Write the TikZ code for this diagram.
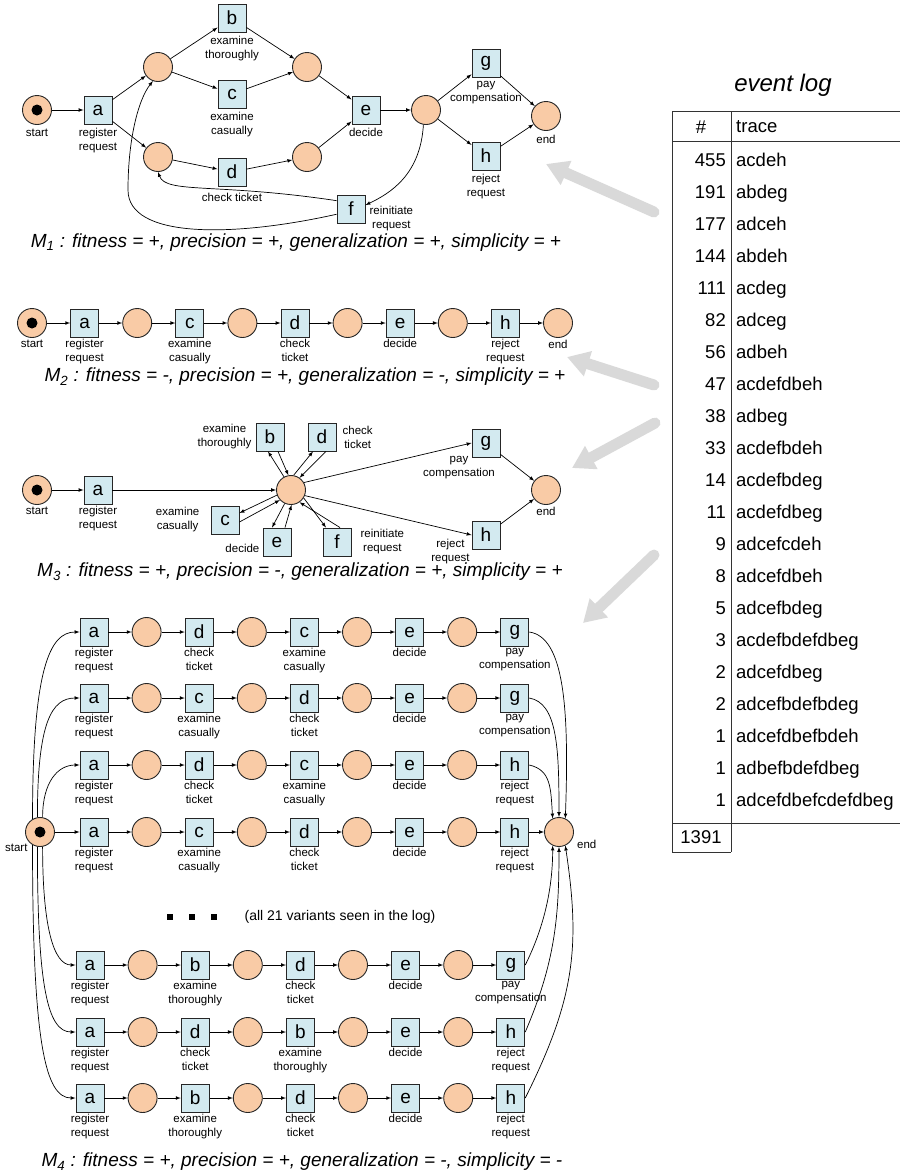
\documentclass[tikz,border=0pt]{standalone}
\usepackage{fontspec}
\setmainfont{Liberation Sans}
\usetikzlibrary{positioning,arrows.meta}
\definecolor{transf}{HTML}{D3EAF0}
\definecolor{placef}{HTML}{F9CBA6}
\definecolor{hintc}{HTML}{D9D9D9}
\definecolor{rulec}{HTML}{333333}
\tikzset{
  arr/.style = {->,line width=0.7pt},
  back/.style = {<-,line width=0.7pt},
  trans/.style = {draw=black!85,fill=transf,line width=0.9pt,minimum width=28pt,minimum height=28pt,inner sep=0pt,font=\fontsize{19}{19}\selectfont},
  place/.style = {draw=black!85,fill=placef,circle,line width=0.9pt,minimum size=29pt,inner sep=0pt},
  init/.style = {place,path picture={\fill[black] (path picture bounding box.center) circle (5.5pt);}},
  lbl/.style = {font=\fontsize{11.5}{14}\selectfont,align=center,inner sep=1pt},
  ttl/.style = {font=\fontsize{19}{22}\selectfont\itshape,inner sep=0pt},
  logt/.style = {font=\fontsize{18.5}{22}\selectfont,inner sep=0pt},
  tabline/.style = {draw=rulec,line width=1pt},
  hint/.style = {hintc,line width=11pt,line cap=round,-{Triangle[length=22pt,width=25pt]}},
  dotsq/.style = {fill=black,minimum size=6pt,inner sep=0pt}
}
\newlength{\hgap}
\setlength{\hgap}{23.2pt}

\begin{document}
\begin{tikzpicture}[x=1pt,y=1pt,>=latex,label distance=1pt]
\useasboundingbox (0,0) rectangle (900,-1176);

% M1
\begin{scope}[label distance=3pt]
\node[init,label={[lbl]below:start}] (m1s) at (37,-110) {};
\node[trans,label={[lbl]below:register\\request}] (m1a) at (98,-110) {a}
  edge[back] (m1s);
\node[place] (m1p1) at (158,-67) {}
  edge[back] (m1a);
\node[place] (m1p2) at (158,-157) {}
  edge[back] (m1a);
\node[trans,label={[lbl]below:examine\\thoroughly}] (m1b) at (232,-18) {b}
  edge[back] (m1p1);
\node[trans,label={[lbl]below:examine\\casually}] (m1c) at (232,-94) {c}
  edge[back] (m1p1);
\node[trans,label={[lbl,label distance=6pt]below:check ticket}] (m1d) at (232,-172) {d}
  edge[back] (m1p2);
\node[place] (m1p3) at (307,-67) {}
  edge[back] (m1b)
  edge[back] (m1c);
\node[place] (m1p4) at (307,-157) {}
  edge[back] (m1d);
\node[trans,label={[lbl]below:decide}] (m1e) at (366,-110) {e}
  edge[back] (m1p3)
  edge[back] (m1p4);
\node[place] (m1p5) at (426,-110) {}
  edge[back] (m1e);
\node[trans,label={[lbl]below:pay\\compensation}] (m1g) at (486,-63) {g}
  edge[back] (m1p5);
\node[trans,label={[lbl]below:reject\\request}] (m1h) at (486,-156) {h}
  edge[back] (m1p5);
\node[place,label={[lbl]below:end}] (m1n) at (546,-116) {}
  edge[back] (m1g)
  edge[back] (m1h);
\node[trans,label={[lbl,yshift=-10pt]right:reinitiate\\request}] (m1f) at (351,-209) {f};
\coordinate (m1k) at (128,-190);
\draw[arr] (m1p5.260) .. controls +(-3,-50) and +(25,12) .. (m1f.15);
\draw[arr] (m1f.150) .. controls +(-120,18) and +(8,-22) .. (m1p2.south);
\draw[arr] (m1f.200) .. controls (230,-238) and (128,-238) .. (m1k)
  .. controls (128,-140) and (138,-100) .. (m1p1.250);
\end{scope}
\node[ttl] (ttl1) at (296,-242.5) {M\textsubscript{1} : fitness = +, precision = +, generalization = +, simplicity = +};

% M2
\node[init,label={[lbl]below:start}] (m2s) at (32,-323) {};
\node[trans,right=\hgap of m2s,label={[lbl]below:register\\request}] (m2a) {a}
  edge[back] (m2s);
\node[place,right=\hgap of m2a] (m2p1) {}
  edge[back] (m2a);
\node[trans,right=\hgap of m2p1,label={[lbl]below:examine\\casually}] (m2c) {c}
  edge[back] (m2p1);
\node[place,right=\hgap of m2c] (m2p2) {}
  edge[back] (m2c);
\node[trans,right=\hgap of m2p2,label={[lbl]below:check\\ticket}] (m2d) {d}
  edge[back] (m2p2);
\node[place,right=\hgap of m2d] (m2p3) {}
  edge[back] (m2d);
\node[trans,right=\hgap of m2p3,label={[lbl]below:decide}] (m2e) {e}
  edge[back] (m2p3);
\node[place,right=\hgap of m2e] (m2p4) {}
  edge[back] (m2e);
\node[trans,right=\hgap of m2p4,label={[lbl]below:reject\\request}] (m2h) {h}
  edge[back] (m2p4);
\node[place,right=\hgap of m2h,label={[lbl]below:end}] (m2n) {}
  edge[back] (m2h);
\node[ttl] (ttl2) at (305,-377) {M\textsubscript{2} : fitness = -, precision = +, generalization = -, simplicity = +};

% M3
\node[init,label={[lbl]below:start}] (m3s) at (37,-490) {};
\node[trans,label={[lbl]below:register\\request}] (m3a) at (98,-490) {a}
  edge[back] (m3s);
\node[place] (m3p) at (291,-490) {}
  edge[back] (m3a);
\node[trans,label={[lbl,label distance=3pt]left:examine\\thoroughly}] (m3b) at (270,-437) {b};
\node[trans,label={[lbl,label distance=5pt]right:check\\ticket}] (m3d) at (322,-437) {d};
\node[trans,label={[lbl,label distance=10pt]left:examine\\casually}] (m3c) at (225,-520) {c};
\node[trans,label={[lbl,label distance=2pt,yshift=-6pt]left:decide}] (m3e) at (277,-542) {e};
\node[trans,label={[lbl,label distance=8pt]right:reinitiate\\request}] (m3f) at (337,-542) {f};
\node[trans,label={[lbl,xshift=-27pt,yshift=3pt]below:pay\\compensation}] (m3g) at (486,-443) {g};
\node[trans,label={[lbl,yshift=12pt]below left:reject\\request}] (m3h) at (486,-535) {h};
\node[place,label={[lbl]below:end}] (m3n) at (546,-490) {}
  edge[back] (m3g)
  edge[back] (m3h);
\draw[arr] (m3p.30) -- (m3g.west);
\draw[arr] (m3p.-22) -- (m3h.west);
\draw[arr] (m3p.118) -- ([xshift=-2pt]m3b.south);
\draw[arr] ([xshift=8pt]m3b.south) -- (m3p.100);
\draw[arr] (m3p.80) -- ([xshift=-9pt]m3d.south);
\draw[arr] ([xshift=4pt]m3d.south) -- (m3p.55);
\draw[arr] (m3p.200) -- ([yshift=7pt]m3c.east);
\draw[arr] ([yshift=-2pt]m3c.east) -- (m3p.222);
\draw[arr] (m3p.245) -- ([xshift=-5pt]m3e.north);
\draw[arr] ([xshift=8pt]m3e.north) -- (m3p.272);
\draw[arr] (m3p.328) -- ([xshift=-11pt]m3f.north);
\draw[arr] ([xshift=3pt]m3f.north) -- (m3p.305);
\node[ttl] (ttl3) at (300,-572) {M\textsubscript{3} : fitness = +, precision = -, generalization = +, simplicity = +};

% M4
\node[init,label={[lbl]below left:start}] (st4) at (40,-832) {};
\node[place,label={[lbl,label distance=2pt,yshift=-12pt]right:end}] (end4) at (559,-832) {};
\foreach \r/\y/\xa/\ms/\ml/\ns/\nl/\zs/\zl in {
  1/632/94/d/{check\\ticket}/c/{examine\\casually}/g/{pay\\compensation},
  2/698/94/c/{examine\\casually}/d/{check\\ticket}/g/{pay\\compensation},
  3/765/94/d/{check\\ticket}/c/{examine\\casually}/h/{reject\\request},
  4/832/94/c/{examine\\casually}/d/{check\\ticket}/h/{reject\\request},
  5/965/90/b/{examine\\thoroughly}/d/{check\\ticket}/g/{pay\\compensation},
  6/1032/90/d/{check\\ticket}/b/{examine\\thoroughly}/h/{reject\\request},
  7/1098/90/b/{examine\\thoroughly}/d/{check\\ticket}/h/{reject\\request}}
{
  \node[trans,label={[lbl]below:register\\request}] (a\r) at (\xa,-\y) {a};
  \node[place,right=\hgap of a\r] (pa\r) {}
    edge[back] (a\r);
  \node[trans,right=\hgap of pa\r,label={[lbl]below:\ml}] (x\r) {\ms}
    edge[back] (pa\r);
  \node[place,right=\hgap of x\r] (pb\r) {}
    edge[back] (x\r);
  \node[trans,right=\hgap of pb\r,label={[lbl]below:\nl}] (y\r) {\ns}
    edge[back] (pb\r);
  \node[place,right=\hgap of y\r] (pc\r) {}
    edge[back] (y\r);
  \node[trans,right=\hgap of pc\r,label={[lbl]below:decide}] (e\r) {e}
    edge[back] (pc\r);
  \node[place,right=\hgap of e\r] (pd\r) {}
    edge[back] (e\r);
  \node[trans,right=\hgap of pd\r,label={[lbl]below:\zl}] (z\r) {\zs}
    edge[back] (pd\r);
}
\draw[arr] (st4.120) .. controls +(0,150) and +(-30,0) .. (a1.west);
\draw[arr] (st4.100) .. controls +(0,95) and +(-28,0) .. (a2.west);
\draw[arr] (st4.80) .. controls +(0,35) and +(-22,0) .. (a3.west);
\draw[arr] (st4) -- (a4);
\draw[arr] (st4.-80) .. controls +(0,-80) and +(-22,0) .. (a5.west);
\draw[arr] (st4.-100) .. controls +(0,-140) and +(-28,0) .. (a6.west);
\draw[arr] (st4.-120) .. controls +(0,-200) and +(-30,0) .. (a7.west);
\draw[arr] (z1.east) .. controls +(35,-5) and +(4,110) .. (end4.65);
\draw[arr] (z2.east) .. controls +(28,-5) and +(0,70) .. (end4.90);
\draw[arr] (z3.east) .. controls +(22,-5) and +(-2,30) .. (end4.115);
\draw[arr] (z4) -- (end4);
\draw[arr] (z5.east) .. controls +(20,40) and +(0,-40) .. (end4.-115);
\draw[arr] (z6.east) .. controls +(30,70) and +(0,-70) .. (end4.-90);
\draw[arr] (z7.east) .. controls +(50,100) and +(15,-100) .. (end4.-65);
\node[dotsq] (dt1) at (170,-917) {};
\node[dotsq] (dt2) at (192,-917) {};
\node[dotsq] (dt3) at (214,-917) {};
\node[font=\fontsize{14}{16}\selectfont] (allv) at (340,-917) {(all 21 variants seen in the log)};
\node[ttl] (ttl4) at (302,-1162) {M\textsubscript{4} : fitness = +, precision = +, generalization = -, simplicity = -};

% hints from the log
\coordinate (h1a) at (654,-212); \coordinate (h1b) at (546,-164);
\coordinate (h2a) at (654,-385); \coordinate (h2b) at (567,-357);
\coordinate (h3a) at (655,-423); \coordinate (h3b) at (572,-468);
\coordinate (h4a) at (654,-555); \coordinate (h4b) at (583,-623);
\draw[hint] (h1a) -- (h1b);
\draw[hint] (h2a) -- (h2b);
\draw[hint] (h3a) -- (h3b);
\draw[hint] (h4a) -- (h4b);

% event log
\node[font=\fontsize{24}{28}\selectfont\itshape] (evlog) at (783,-85) {event log};
\draw[tabline] (672,-111) -- (900,-111);
\draw[tabline] (672,-141) -- (900,-141);
\draw[tabline] (672,-823) -- (900,-823);
\draw[tabline] (672,-852) -- (731,-852);
\draw[tabline] (672,-111) -- (672,-852);
\draw[tabline] (731,-111) -- (731,-852);
\node[logt] (hnum) at (701,-127) {\#};
\node[logt,anchor=west] (htrc) at (736,-127) {trace};
\foreach \cnum/\ctrace [count=\i from 0] in {455/acdeh,191/abdeg,177/adceh,144/abdeh,111/acdeg,82/adceg,56/adbeh,47/acdefdbeh,38/adbeg,33/acdefbdeh,14/acdefbdeg,11/acdefdbeg,9/adcefcdeh,8/adcefdbeh,5/adcefbdeg,3/acdefbdefdbeg,2/adcefdbeg,2/adcefbdefbdeg,1/adcefdbefbdeh,1/adbefbdefdbeg,1/adcefdbefcdefdbeg}
{
  \node[logt,anchor=base east] (cnt\i) at (726,-166.6-32*\i) {\cnum};
  \node[logt,anchor=base west] (trc\i) at (736,-166.6-32*\i) {\ctrace};
}
\node[logt] (total) at (701,-837) {1391};
\end{tikzpicture}
\end{document}
